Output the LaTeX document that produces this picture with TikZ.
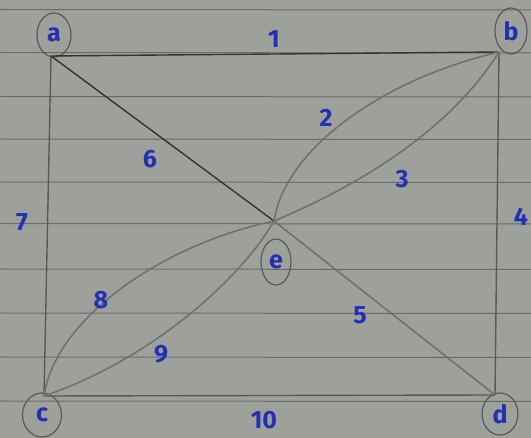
\documentclass[tikz,border=0pt]{standalone}
\usepackage{fontspec}
\setmainfont{Fira Sans}
\usetikzlibrary{shapes.geometric}
\definecolor{paper}{RGB}{158,160,156}
\definecolor{rule}{RGB}{104,108,104}
\definecolor{pencil}{RGB}{88,90,88}
\definecolor{pencildark}{RGB}{50,52,51}
\definecolor{pencillight}{RGB}{112,114,112}
\definecolor{ink}{RGB}{36,48,178}
\tikzset{
  vtx/.style={ellipse,draw=pencil,line width=1.2pt,text=ink,inner sep=0pt,
    font=\fontsize{25}{25}\selectfont\bfseries},
  lbl/.style={text=ink,inner sep=0pt,font=\fontsize{25}{25}\selectfont\bfseries},
  edge/.style={draw=pencil,line width=1.4pt},
  edgedark/.style={draw=pencildark,line width=1.4pt},
  edgelight/.style={draw=pencillight,line width=1.6pt},
  ruled/.style={draw=rule,line width=1pt}
}
\begin{document}
\begin{tikzpicture}[x=1pt,y=-1pt]
\useasboundingbox (0,0) rectangle (531,438);
\fill[paper] (0,0) rectangle (531,438);
% ruled lines
\foreach \yy in {9.5,52.5,96.5,139,182,223.5,269,313,357,401}
  \draw[ruled] (0,\yy) -- (531,\yy+0.5);
% vertex points
\coordinate (va) at (51,56);
\coordinate (vb) at (499,52);
\coordinate (vc) at (44,396);
\coordinate (vd) at (495,395);
\coordinate (ve) at (274,221);
% vertex labels
\node[vtx,minimum width=34pt,minimum height=44pt] (a) at (54,35) {\raisebox{-7pt}{a}};
\node[vtx,minimum width=32pt,minimum height=46pt] (b) at (511,31) {\raisebox{-6pt}{b}};
\node[vtx,minimum width=39pt,minimum height=44pt] (c) at (42,415) {c};
\node[vtx,minimum width=36pt,minimum height=42pt] (d) at (500,414) {d};
\node[vtx,minimum width=30pt,minimum height=46pt] (e) at (276,262) {\raisebox{-3pt}{e}};
% edges
\draw[edgedark] (va) -- (vb);
\draw[edge] (va) -- (vc);
\draw[edge] (vb) -- (vd);
\draw[edge] (vc) -- (vd);
\draw[edgedark] (va) -- (ve);
\draw[edgelight] (ve) -- (vd);
\draw[edgelight] (ve) .. controls (285,150) and (380,80) .. (vb);
\draw[edgelight] (ve) .. controls (360,185) and (450,130) .. (vb);
\draw[edgelight] (vc) .. controls (55,320) and (160,245) .. (ve);
\draw[edgelight] (vc) .. controls (150,360) and (240,280) .. (ve);
% edge labels
\node[lbl] (l1) at (274,39) {1};
\node[lbl] (l2) at (326,118) {2};
\node[lbl] (l3) at (402,179) {3};
\node[lbl] (l4) at (521,217) {4};
\node[lbl] (l5) at (360,315) {5};
\node[lbl] (l6) at (150,159) {6};
\node[lbl] (l7) at (22,222) {7};
\node[lbl] (l8) at (101,300) {8};
\node[lbl] (l9) at (161,354) {9};
\node[lbl] (l10) at (264,420) {10};
\end{tikzpicture}
\end{document}
